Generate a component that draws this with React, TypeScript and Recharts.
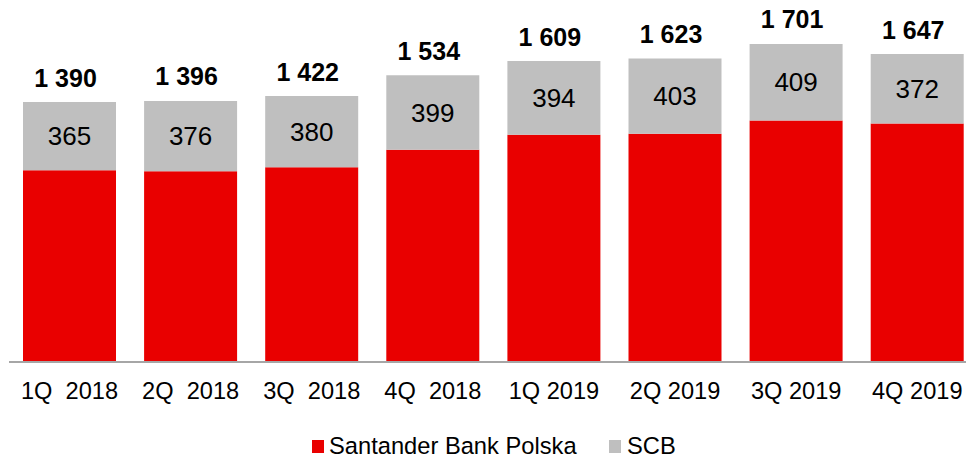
import { BarChart, Bar, XAxis, YAxis, LabelList } from "recharts"

const quarters = ["1Q  2018", "2Q  2018", "3Q  2018", "4Q  2018", "1Q 2019", "2Q 2019", "3Q 2019", "4Q 2019"]
const totals = [1390, 1396, 1422, 1534, 1609, 1623, 1701, 1647]
const scb = [365, 376, 380, 399, 394, 403, 409, 372]
const sbp = totals.map((t, i) => t - scb[i])

const data = quarters.map((q, i) => ({ q, sbp: sbp[i], scb: scb[i], total: totals[i] }))

const RED = "#E90000"
const GREY = "#BFBFBF"
const FONT = "'Liberation Sans', Arial, sans-serif"

const fmt = (v: number) => {
  const s = String(v)
  return s.length > 3 ? s.slice(0, s.length - 3) + " " + s.slice(-3) : s
}

const Tick = (props: any) => {
  const { x, y, payload } = props
  return (
    <text x={x} y={y + 37} textAnchor="middle" fill="#000" fontSize={23.6} fontFamily={FONT} style={{ whiteSpace: "pre" }}>
      {payload.value}
    </text>
  )
}

// totals sit a bit left of the bar centre in the original
const TotalLabel = (props: any) => {
  const { x, y, width, index } = props
  return (
    <text x={x + width / 2 - 4} y={y - 15.5} textAnchor="middle" fill="#000" fontSize={25} fontWeight="bold" fontFamily={FONT}>
      {fmt(totals[index])}
    </text>
  )
}

export default function App() {
  return (
    <div style={{ position: "fixed", left: 0, top: 0, width: 966, height: 458, overflow: "hidden", background: "#fff", fontFamily: FONT }}>
      <BarChart
        width={980}
        height={458}
        data={data}
        margin={{ top: 25.4, right: 2.2, bottom: 66, left: 9 }}
        barSize={93}
      >
        <XAxis
          dataKey="q"
          height={30}
          tickLine={false}
          tickSize={0}
          tickMargin={0}
          axisLine={{ stroke: "#A6A6A6", strokeWidth: 2 }}
          tick={<Tick />}
          interval={0}
        />
        <YAxis hide domain={[0, 1800]} />
        <Bar dataKey="sbp" stackId="a" fill={RED} isAnimationActive={false} />
        <Bar dataKey="scb" stackId="a" fill={GREY} isAnimationActive={false}>
          <LabelList dataKey="scb" position="center" fill="#000" fontSize={26} fontFamily={FONT} />
          <LabelList dataKey="total" content={<TotalLabel />} />
        </Bar>
      </BarChart>
      <div style={{ position: "absolute", left: 312, top: 440, width: 12, height: 13, background: RED }} />
      <div style={{ position: "absolute", left: 329, top: 435, fontSize: 23.7, lineHeight: 1, color: "#000", whiteSpace: "nowrap" }}>
        Santander Bank Polska
      </div>
      <div style={{ position: "absolute", left: 609, top: 440, width: 12, height: 13, background: GREY }} />
      <div style={{ position: "absolute", left: 627, top: 435, fontSize: 23.7, lineHeight: 1, color: "#000", whiteSpace: "nowrap" }}>
        SCB
      </div>
    </div>
  )
}
